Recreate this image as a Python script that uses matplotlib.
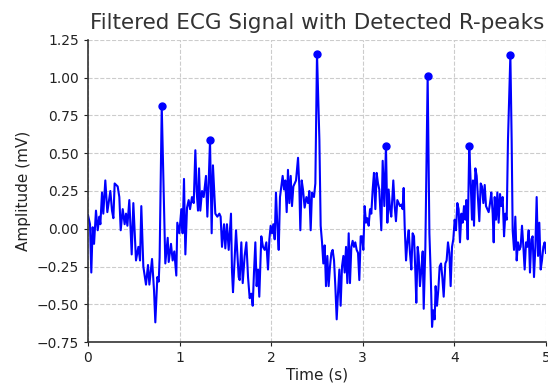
import numpy as np
import matplotlib
matplotlib.use("Agg")
import matplotlib.pyplot as plt

# filtered ECG trace (time in s, amplitude in mV)
time_s = [
    0.000, 0.022, 0.036, 0.051, 0.066, 0.087, 0.106, 0.124, 0.135, 0.153,
    0.167, 0.189, 0.211, 0.244, 0.262, 0.277, 0.291, 0.324, 0.342, 0.357,
    0.379, 0.400, 0.415, 0.430, 0.451, 0.477, 0.495, 0.524, 0.550, 0.568,
    0.582, 0.604, 0.633, 0.655, 0.670, 0.699, 0.721, 0.735, 0.757, 0.772,
    0.782, 0.805, 0.844, 0.870, 0.881, 0.906, 0.924, 0.942, 0.964, 0.975,
    0.997, 1.019, 1.033, 1.048, 1.063, 1.081, 1.099, 1.114, 1.135, 1.154,
    1.172, 1.186, 1.201, 1.212, 1.226, 1.245, 1.263, 1.288, 1.303, 1.317,
    1.332, 1.350, 1.364, 1.390, 1.412, 1.434, 1.448, 1.463, 1.485, 1.499,
    1.517, 1.536, 1.561, 1.572, 1.583, 1.616, 1.645, 1.656, 1.674, 1.689,
    1.710, 1.729, 1.747, 1.765, 1.783, 1.798, 1.812, 1.827, 1.841, 1.856,
    1.870, 1.892, 1.910, 1.929, 1.947, 1.965, 1.980, 1.994, 2.009, 2.023,
    2.038, 2.052, 2.067, 2.082, 2.096, 2.111, 2.125, 2.140, 2.154, 2.169,
    2.183, 2.198, 2.213, 2.227, 2.242, 2.256, 2.271, 2.293, 2.307, 2.318,
    2.333, 2.347, 2.365, 2.384, 2.402, 2.416, 2.431, 2.445, 2.467, 2.482,
    2.500, 2.526, 2.540, 2.555, 2.569, 2.584, 2.598, 2.613, 2.627, 2.642,
    2.657, 2.671, 2.686, 2.700, 2.715, 2.729, 2.744, 2.758, 2.773, 2.788,
    2.802, 2.817, 2.831, 2.846, 2.860, 2.875, 2.889, 2.904, 2.918, 2.933,
    2.948, 2.962, 2.977, 2.991, 3.006, 3.020, 3.035, 3.049, 3.064, 3.079,
    3.093, 3.108, 3.122, 3.137, 3.151, 3.166, 3.180, 3.202, 3.217, 3.235,
    3.253, 3.268, 3.282, 3.297, 3.311, 3.333, 3.348, 3.362, 3.377, 3.392,
    3.406, 3.421, 3.435, 3.446, 3.457, 3.472, 3.486, 3.501, 3.515, 3.530,
    3.544, 3.559, 3.574, 3.584, 3.599, 3.610, 3.624, 3.639, 3.654, 3.665,
    3.683, 3.708, 3.727, 3.741, 3.756, 3.770, 3.785, 3.795, 3.810, 3.825,
    3.839, 3.854, 3.868, 3.883, 3.901, 3.915, 3.930, 3.945, 3.959, 3.974,
    3.988, 4.003, 4.017, 4.032, 4.046, 4.061, 4.076, 4.090, 4.105, 4.119,
    4.130, 4.145, 4.162, 4.177, 4.192, 4.203, 4.214, 4.229, 4.243, 4.258,
    4.272, 4.287, 4.301, 4.316, 4.331, 4.345, 4.360, 4.374, 4.389, 4.403,
    4.418, 4.429, 4.440, 4.454, 4.469, 4.483, 4.498, 4.512, 4.527, 4.542,
    4.556, 4.571, 4.585, 4.611, 4.625, 4.636, 4.651, 4.665, 4.680, 4.694,
    4.709, 4.723, 4.738, 4.753, 4.767, 4.782, 4.796, 4.811, 4.825, 4.840,
    4.854, 4.869, 4.884, 4.898, 4.913, 4.927, 4.942, 4.956, 4.971, 4.985,
    5.000,
]
amplitude_mv = [
    0.09, 0.03, -0.29, 0.01, -0.10, 0.12, -0.01, 0.08, 0.03, 0.24,
    0.10, 0.32, 0.11, 0.25, 0.12, 0.07, 0.30, 0.28, 0.21, -0.01,
    0.13, 0.03, 0.10, 0.02, 0.19, -0.17, 0.17, -0.21, -0.12, -0.21,
    0.15, -0.25, -0.37, -0.24, -0.37, -0.20, -0.41, -0.62, -0.32, -0.35,
    -0.19, 0.81, -0.23, -0.06, -0.22, -0.10, -0.21, -0.15, -0.31, 0.04,
    -0.03, 0.13, -0.03, 0.33, -0.17, 0.14, 0.19, 0.13, 0.21, 0.17,
    0.52, 0.25, 0.12, 0.40, 0.12, 0.25, 0.21, 0.35, 0.08, 0.30,
    0.585, -0.03, 0.42, 0.10, 0.08, 0.10, 0.08, -0.12, 0.03, -0.13,
    0.03, -0.14, 0.10, -0.28, -0.42, -0.01, -0.32, -0.34, -0.09, -0.36,
    -0.18, -0.09, -0.32, -0.46, -0.43, -0.51, -0.29, -0.09, -0.38, -0.27,
    -0.45, -0.05, -0.12, -0.14, -0.09, -0.27, -0.07, 0.02, -0.03, 0.03,
    -0.07, 0.24, 0.02, -0.14, 0.21, 0.28, 0.35, 0.26, 0.32, 0.11,
    0.39, 0.17, 0.35, 0.15, 0.28, 0.30, 0.32, 0.47, 0.28, -0.01,
    0.32, 0.26, 0.14, 0.21, 0.17, 0.25, -0.01, 0.24, 0.21, 0.30,
    1.16, 0.59, 0.02, -0.09, -0.23, -0.11, -0.38, -0.18, -0.38, -0.25,
    -0.16, -0.14, -0.21, -0.38, -0.60, -0.43, -0.27, -0.51, -0.25, -0.18,
    -0.29, -0.12, -0.36, -0.03, -0.36, -0.12, -0.08, -0.12, -0.09, -0.14,
    -0.16, -0.34, -0.05, -0.05, -0.14, 0.15, 0.04, 0.07, 0.02, 0.13,
    0.10, 0.26, 0.37, 0.13, 0.37, 0.30, 0.26, -0.01, 0.45, 0.15,
    0.55, 0.04, 0.26, 0.13, 0.08, 0.32, 0.15, 0.05, 0.19, 0.17,
    0.15, 0.16, 0.13, 0.27, 0.02, -0.21, -0.09, -0.01, -0.16, -0.27,
    -0.03, -0.05, -0.29, -0.49, -0.12, -0.18, -0.38, -0.27, -0.15, -0.53,
    -0.12, 1.01, -0.03, -0.29, -0.65, -0.54, -0.60, -0.38, -0.51, -0.40,
    -0.25, -0.23, -0.32, -0.45, -0.23, -0.21, -0.09, -0.16, -0.38, -0.12,
    -0.07, 0.06, -0.01, 0.17, 0.13, -0.09, 0.10, 0.04, 0.15, 0.06,
    0.19, -0.07, 0.55, 0.32, 0.06, 0.32, 0.02, 0.40, 0.35, 0.19,
    0.05, 0.30, 0.28, 0.17, 0.29, 0.15, 0.13, 0.11, 0.17, 0.24,
    0.10, -0.09, 0.21, 0.06, 0.24, 0.04, 0.23, 0.15, 0.21, -0.05,
    0.10, 0.06, 0.59, 1.15, 0.59, -0.01, -0.14, 0.08, -0.21, -0.09,
    -0.14, -0.12, 0.02, -0.12, -0.27, -0.09, -0.12, -0.01, -0.29, -0.07,
    -0.05, -0.32, -0.12, 0.21, -0.18, 0.04, -0.27, -0.21, -0.12, -0.09,
    -0.16,
]
# times of the detected R-peaks
peak_times = [0.805, 1.332, 2.500, 3.253, 3.708, 4.162, 4.611]

y_ticks = [-0.75, -0.50, -0.25, 0.00, 0.25, 0.50, 0.75, 1.00, 1.25]
x_ticks = [0, 1, 2, 3, 4, 5]

t = np.array(time_s)
sig = np.array(amplitude_mv)
peak_idx = [int(np.argmin(np.abs(t - pt))) for pt in peak_times]

fig = plt.figure(figsize=(5.48, 3.85), dpi=100)
ax = fig.add_axes([88 / 548, 43 / 385, 458 / 548, 302 / 385])

ax.plot(t, sig, color='blue', linewidth=1.5)
ax.plot(t[peak_idx], sig[peak_idx], 'o', color='blue', markersize=5)

ax.set_xlim(0, 5)
ax.set_ylim(-0.75, 1.25)
ax.set_xticks(x_ticks)
ax.set_yticks(y_ticks)
ax.set_yticklabels([f"{v:.2f}".replace('-', '\u2212') for v in y_ticks])
ax.tick_params(labelsize=10, colors='#222222', length=3)
ax.grid(True, linestyle='--', color='#cccccc', linewidth=0.8)
ax.spines['top'].set_visible(False)
ax.spines['right'].set_visible(False)
ax.spines['left'].set_color('#333333')
ax.spines['bottom'].set_color('#333333')
ax.spines['left'].set_linewidth(1.2)
ax.spines['bottom'].set_linewidth(1.2)

ax.set_title('Filtered ECG Signal with Detected R-peaks', fontsize=15.5,
             color='#333333', pad=8)
ax.set_xlabel('Time (s)', fontsize=11, color='#222222', labelpad=2)
ax.set_ylabel('Amplitude (mV)', fontsize=11, color='#222222')

fig.savefig('out.png', dpi=100)
